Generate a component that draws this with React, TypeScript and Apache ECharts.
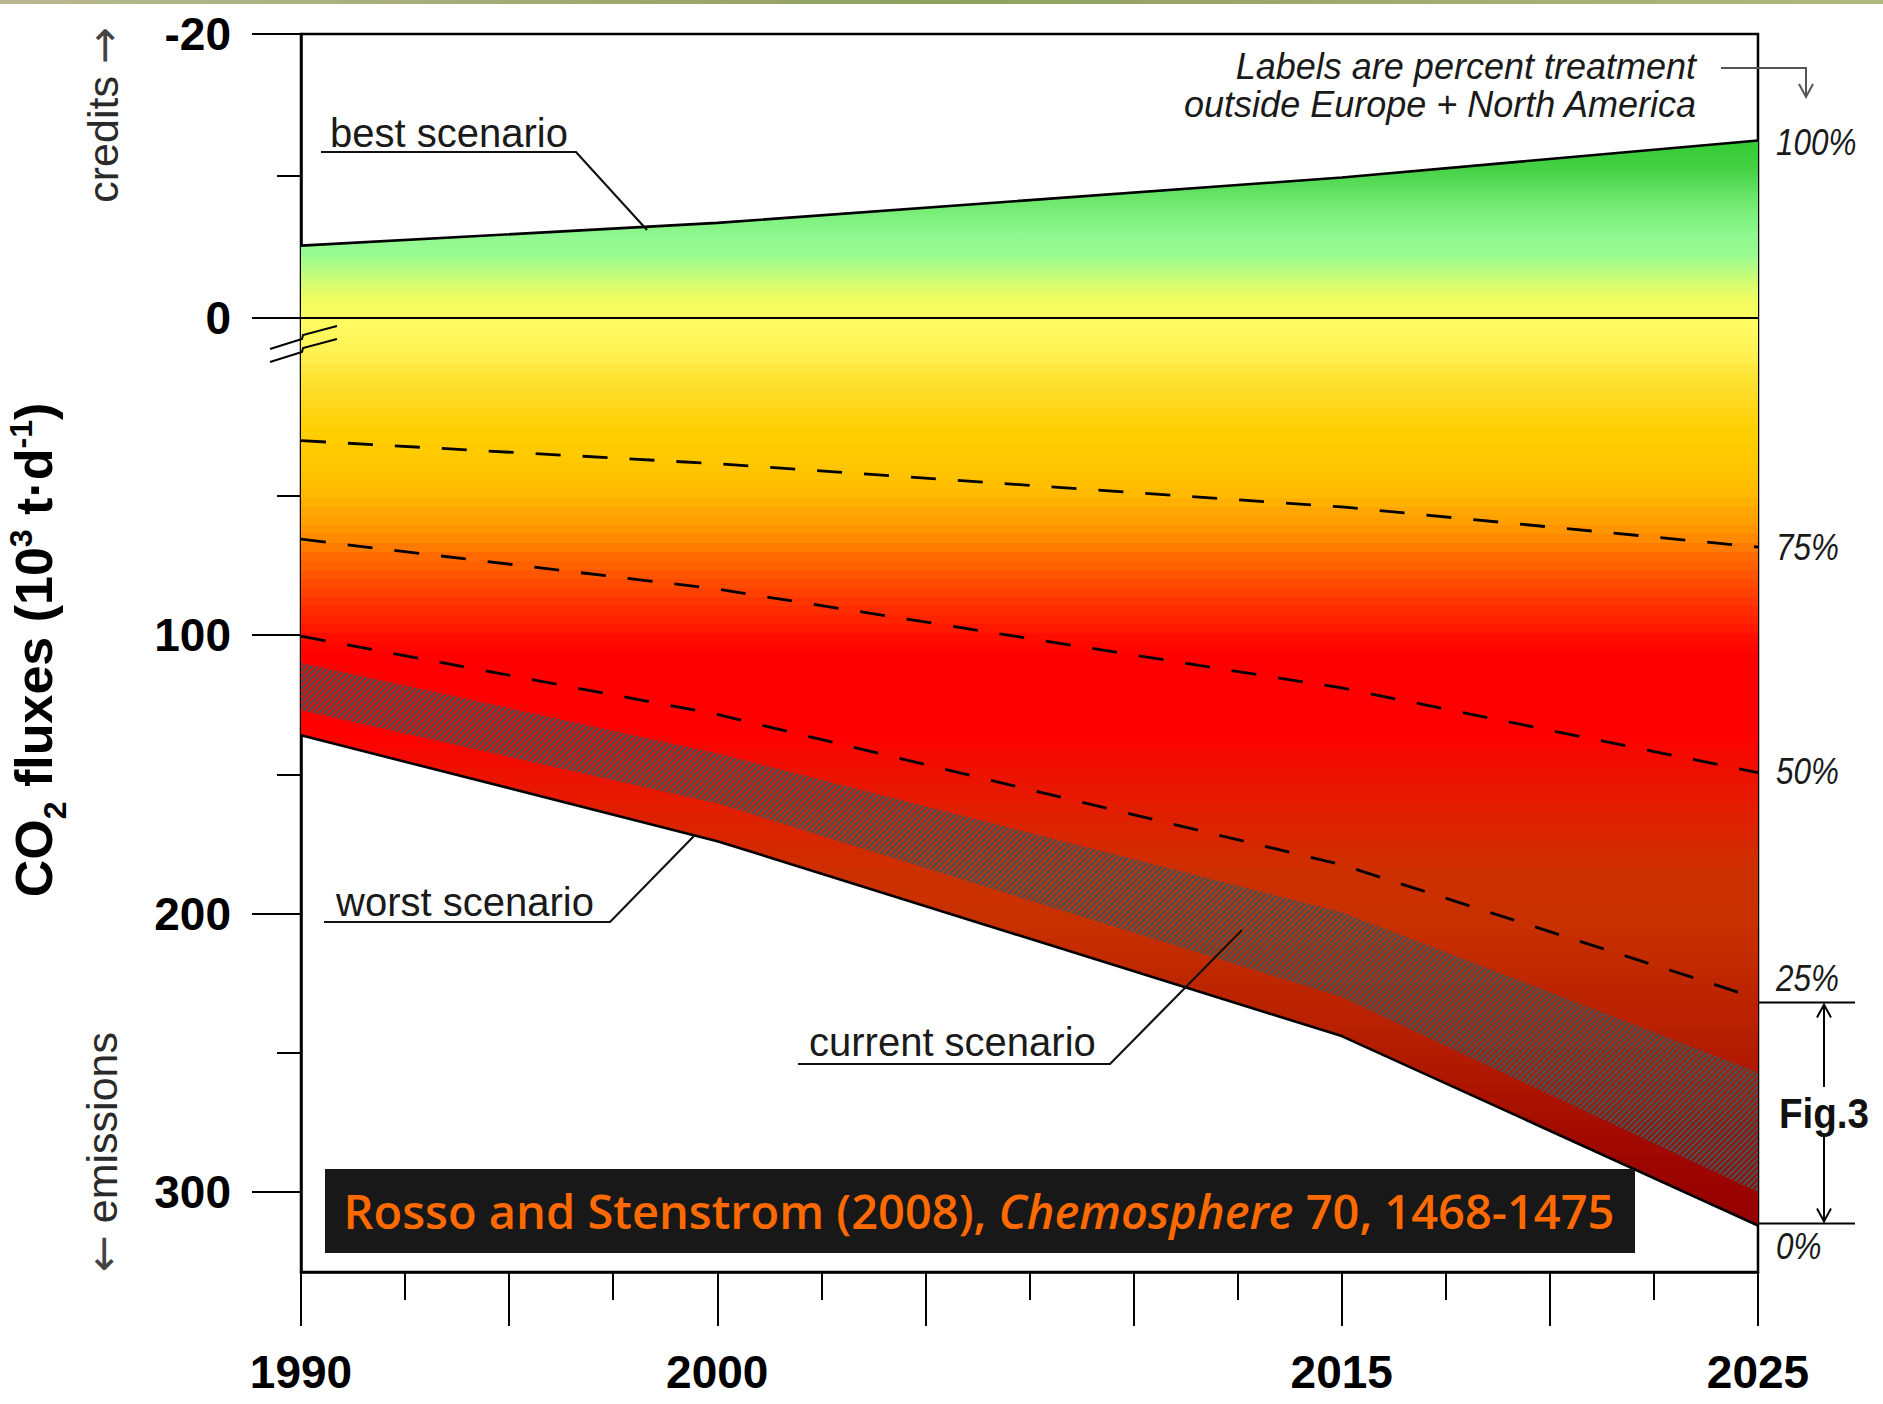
import React, { useEffect, useRef } from "react";
import * as echarts from "echarts";

// ---------- data ----------
const years = [1990, 2000, 2015, 2025];
const bestScenario = [-5.1, -6.7, -9.9, -12.5]; // 100 % treatment (credits are negative)
const worstScenario = [136, 174, 244, 312]; // 0 % treatment
const currentUpper = [110, 142.5, 199.5, 257]; // hatched "current scenario" band
const currentLower = [127, 160.5, 230, 300];
const treat75 = [30.2, 38.5, 54, 68.4];
const treat50 = [65.6, 83.5, 119, 149.4];
const treat25 = [100.4, 128.5, 182.5, 230.5];

const yTickLabels = [-20, 0, 100, 200, 300];
const yMinorTicks = [-10, 50, 150, 250];
const xTickLabels = [1990, 2000, 2015, 2025];
const xMajorTicks = [1990, 1995, 2000, 2005, 2010, 2015, 2020, 2025];
const xMinorTicks = [1992.5, 1997.5, 2002.5, 2007.5, 2012.5, 2017.5, 2022.5];
const pctLabels = ["100%", "75%", "50%", "25%", "0%"];

// broken axis: credits stretched, gap below the zero line
const Y_MIN = -20;
const Y_MAX = 328.7;
const CREDIT_STRETCH = 5.1;
const BREAK_GAP = 13.8;
const toAxis = (v: number) => (v <= 0 ? v * CREDIT_STRETCH : v + BREAK_GAP);
const fromAxis = (t: number) => (t <= 0 ? t / CREDIT_STRETCH : t - BREAK_GAP);

const W = 1883;
const H = 1404;
const FONT = "'Liberation Sans', Arial, Helvetica, sans-serif";

// colour ramp (by vertical pixel position)
const creditKeys: [number, string][] = [
  [140, "#33cc33"], [167, "#44d044"], [200, "#6de86d"], [235, "#90f890"],
  [255, "#98fc90"], [270, "#b8fc80"], [285, "#d8fc70"], [300, "#f0fc60"], [318, "#fcfc60"],
];
const emissionKeys: [number, string][] = [
  [318, "#fffc60"], [335, "#fff860"], [355, "#fff050"], [375, "#ffe436"], [400, "#ffd820"],
  [430, "#ffd000"], [460, "#ffc800"], [490, "#ffbc00"], [515, "#ffa400"], [535, "#ff9000"],
  [553, "#ff7000"], [570, "#ff5a00"], [590, "#ff4400"], [607, "#ff3000"], [622, "#ff2000"],
  [640, "#ff0a00"], [660, "#ff0000"], [735, "#ff0000"], [770, "#ee1000"], [823, "#dd2200"],
  [873, "#cc3000"], [923, "#c83000"], [973, "#c02800"], [1022, "#b82000"], [1072, "#b01800"],
  [1147, "#a00800"], [1232, "#940000"],
];

function hexRgb(h: string) {
  return [parseInt(h.slice(1, 3), 16), parseInt(h.slice(3, 5), 16), parseInt(h.slice(5, 7), 16)];
}
function colorAt(keys: [number, string][], y: number) {
  if (y <= keys[0][0]) return keys[0][1];
  for (let i = 1; i < keys.length; i++) {
    if (y <= keys[i][0]) {
      const [y0, c0] = keys[i - 1];
      const [y1, c1] = keys[i];
      const f = (y - y0) / (y1 - y0);
      const a = hexRgb(c0);
      const b = hexRgb(c1);
      const m = a.map((v, k) => Math.round(v + (b[k] - v) * f));
      return `rgb(${m[0]},${m[1]},${m[2]})`;
    }
  }
  return keys[keys.length - 1][1];
}
function buildStops() {
  const stops: { offset: number; color: string }[] = [];
  creditKeys.forEach(([y, c]) => stops.push({ offset: y / H, color: c }));
  const step = 9;
  for (let y = 318; y < 1232; y += step) {
    const c = colorAt(emissionKeys, y + step / 2);
    stops.push({ offset: y / H, color: c }, { offset: Math.min(y + step, 1232) / H, color: c });
  }
  return stops;
}

function makeHatch() {
  const s = 6;
  const c = document.createElement("canvas");
  c.width = s;
  c.height = s;
  const g = c.getContext("2d");
  if (g) {
    g.strokeStyle = "rgba(78,78,78,1)";
    g.lineWidth = 2.6;
    g.beginPath();
    g.moveTo(-1, s + 1);
    g.lineTo(s + 1, -1);
    g.moveTo(-s / 2 - 1, s / 2 + 1);
    g.lineTo(s / 2 + 1, -s / 2 - 1);
    g.moveTo(s / 2 - 1, s * 1.5 + 1);
    g.lineTo(s * 1.5 + 1, s / 2 - 1);
    g.stroke();
  }
  return c;
}

const pts = (vals: number[]) => years.map((y, i) => [y, toAxis(vals[i])]);
// one row: [x0, upper0, lower0, x1, upper1, lower1, ...]
const bandRow = (upper: number[], lower: number[]) =>
  years.flatMap((y, i) => [y, toAxis(upper[i]), toAxis(lower[i])]);

export default function App() {
  const ref = useRef<HTMLDivElement>(null);

  useEffect(() => {
    if (!ref.current) return;
    const chart = echarts.init(ref.current, undefined, { renderer: "svg" });

    const gradient = new echarts.graphic.LinearGradient(0, 0, 0, H, buildStops(), true);
    const hatchCanvas = makeHatch();
    const hatch: any = { image: hatchCanvas.toDataURL(), repeat: "repeat", imageWidth: 6, imageHeight: 6 };
    const black = "#000";
    const dashed = { color: black, width: 2.8, type: [25, 22] as any };

    const bandRender = (fill: any) => (params: any, api: any) => {
      const upper: number[][] = [];
      const lower: number[][] = [];
      for (let i = 0; i < years.length; i++) {
        const x = api.value(i * 3);
        upper.push(api.coord([x, api.value(i * 3 + 1)]));
        lower.push(api.coord([x, api.value(i * 3 + 2)]));
      }
      return {
        type: "polygon",
        shape: { points: upper.concat(lower.reverse()) },
        style: { fill, stroke: null },
      };
    };

    const option: any = {
      animation: false,
      backgroundColor: "#fff",
      grid: {
        left: 301, top: 34, right: W - 1758, bottom: H - 1272,
        show: true, borderColor: black, borderWidth: 2.5, backgroundColor: "transparent",
        containLabel: false, outerBoundsMode: "none",
      },
      xAxis: [
        {
          type: "value", min: 1990, max: 2025, position: "bottom",
          axisLine: { show: true, onZero: false, lineStyle: { color: black, width: 2.5 } },
          axisTick: { show: true, customValues: xMajorTicks, length: 54, lineStyle: { color: black, width: 2 } },
          axisLabel: {
            customValues: xTickLabels, fontSize: 46, fontWeight: "bold", fontFamily: FONT,
            color: black, margin: 77, formatter: (v: number) => String(v),
          },
          splitLine: { show: false },
        },
        {
          type: "value", min: 1990, max: 2025, position: "bottom",
          axisLine: { show: false, onZero: false },
          axisTick: { show: true, customValues: xMinorTicks, length: 28, lineStyle: { color: black, width: 2 } },
          axisLabel: { show: false },
          splitLine: { show: false },
        },
      ],
      yAxis: [
        {
          type: "value", inverse: true, min: toAxis(Y_MIN), max: toAxis(Y_MAX), position: "left",
          axisLine: { show: true, onZero: false, lineStyle: { color: black, width: 2.5 } },
          axisTick: { show: true, customValues: yTickLabels.map(toAxis), length: 49, lineStyle: { color: black, width: 2 } },
          axisLabel: {
            customValues: yTickLabels.map(toAxis), fontSize: 46, fontWeight: "bold", fontFamily: FONT,
            color: black, margin: 70, formatter: (v: number) => String(Math.round(fromAxis(v))),
          },
          splitLine: { show: false },
        },
        {
          type: "value", inverse: true, min: toAxis(Y_MIN), max: toAxis(Y_MAX), position: "left",
          axisLine: { show: false, onZero: false },
          axisTick: { show: true, customValues: yMinorTicks.map(toAxis), length: 24, lineStyle: { color: black, width: 2 } },
          axisLabel: { show: false },
          splitLine: { show: false },
        },
      ],
      series: [
        {
          name: "range", type: "custom", silent: true, z: 2,
          renderItem: bandRender(gradient),
          data: [bandRow(bestScenario, worstScenario)],
        },
        {
          name: "current scenario", type: "custom", silent: true, z: 3,
          renderItem: bandRender(hatch),
          data: [bandRow(currentUpper, currentLower)],
        },
        {
          name: "best scenario", type: "line", data: pts(bestScenario), symbol: "none", silent: true,
          lineStyle: { color: black, width: 2.6 }, z: 6,
          markLine: {
            silent: true, symbol: "none", label: { show: false },
            lineStyle: { color: black, type: "solid", width: 2.2 },
            data: [{ yAxis: toAxis(0) }],
          },
        },
        {
          name: "worst scenario", type: "line", data: pts(worstScenario), symbol: "none", silent: true,
          lineStyle: { color: black, width: 2.6 }, z: 6,
        },
        { name: "75%", type: "line", data: pts(treat75), symbol: "none", silent: true, lineStyle: dashed, z: 4 },
        { name: "50%", type: "line", data: pts(treat50), symbol: "none", silent: true, lineStyle: dashed, z: 4 },
        { name: "25%", type: "line", data: pts(treat25), symbol: "none", silent: true, lineStyle: dashed, z: 4 },
      ],
    };
    chart.setOption(option);

    // ---------- annotations ----------
    const last = years.length - 1;
    const px = (v: number) => chart.convertToPixel({ xAxisIndex: 0, yAxisIndex: 0 }, [years[last], toAxis(v)]) as number[];
    const ends = [bestScenario[last], treat75[last], treat50[last], treat25[last], worstScenario[last]];
    const labelDy = [2, 0, -2, -20, 21];
    const endPx = ends.map((v) => px(v));
    const rightX = endPx[0][0];

    const txt = (x: number, y: number, text: string, extra: any = {}, elExtra: any = {}) => ({
      type: "text", x, y, silent: true, z: 50, ...elExtra,
      style: {
        text, fill: "#1a1a1a", fontFamily: FONT, fontSize: 40, align: "left", verticalAlign: "middle", ...extra,
      },
    });
    const pl = (points: number[][], stroke = "#111", lineWidth = 2.2) => ({
      type: "polyline", silent: true, z: 50, shape: { points }, style: { stroke, lineWidth, fill: null },
    });

    const graphics: any[] = [];
    graphics.push({
      type: "rect", silent: true, z: 50, shape: { x: 0, y: 0, width: W, height: 4 },
      style: {
        fill: new echarts.graphic.LinearGradient(0, 0, 1, 0, [
          { offset: 0, color: "#b8b890" }, { offset: 0.5, color: "#8fa060" }, { offset: 1, color: "#b0b880" },
        ]),
      },
    });

    // y-axis title, laid out piece by piece (sub- and superscripts)
    const ctx = document.createElement("canvas").getContext("2d");
    const measure = (t: string, size: number) => {
      if (!ctx) return t.length * size * 0.55;
      ctx.font = `bold ${size}px 'Liberation Sans', Arial, sans-serif`;
      return ctx.measureText(t).width;
    };
    const titleParts: [string, number, number][] = [
      ["CO", 52, 0], ["2", 32, 21], [" fluxes (10", 52, 0], ["3", 32, -13], [" t·d", 52, 0], ["-1", 32, -13], [")", 52, 0],
    ];
    const totalW = titleParts.reduce((s, p) => s + measure(p[0], p[1]), 0);
    let cursor = -totalW / 2;
    const titleChildren = titleParts.map(([t, size, dy]) => {
      const el = {
        type: "text", x: cursor, y: dy, silent: true,
        style: { text: t, fontSize: size, fontWeight: "bold", fontFamily: FONT, fill: "#000", align: "left", verticalAlign: "middle" },
      };
      cursor += measure(t, size);
      return el;
    });
    graphics.push({ type: "group", x: 34, y: 650, rotation: Math.PI / 2, silent: true, z: 50, children: titleChildren });

    const sideRich = {
      w: { fontSize: 43, fontFamily: FONT, fill: "#2a2a2a" },
      a: { fontSize: 44, fontFamily: "'DejaVu Sans', sans-serif", fill: "#444" },
    };
    graphics.push({
      type: "text", x: 103, y: 115, rotation: Math.PI / 2, silent: true, z: 50,
      style: { text: "{w|credits }{a|→}", align: "center", verticalAlign: "middle", rich: sideRich },
    });
    graphics.push({
      type: "text", x: 102, y: 1152, rotation: Math.PI / 2, silent: true, z: 50,
      style: { text: "{a|←}{w| emissions}", align: "center", verticalAlign: "middle", rich: sideRich },
    });

    // axis break marks
    graphics.push(pl([[270, 349], [302, 339], [303, 335], [337, 326]], "#000", 2));
    graphics.push(pl([[270, 362], [302, 352], [303, 348], [337, 339]], "#000", 2));

    // scenario callouts
    graphics.push(txt(330, 133, "best scenario"));
    graphics.push(pl([[321, 152], [576, 152], [647, 230]]));
    graphics.push(txt(336, 902, "worst scenario"));
    graphics.push(pl([[324, 922], [610, 922], [694, 836]]));
    graphics.push(txt(809, 1042, "current scenario"));
    graphics.push(pl([[798, 1064], [1110, 1064], [1242, 930]]));

    // top-right note
    const note = { fontSize: 36, fontStyle: "italic", align: "right", fill: "#1a1a1a" };
    graphics.push(txt(1696, 66, "Labels are percent treatment", note));
    graphics.push(txt(1696, 104, "outside Europe + North America", note));
    graphics.push(pl([[1721, 68], [1806, 68], [1806, 96]], "#555", 2));
    graphics.push(pl([[1799, 84], [1806, 97], [1813, 84]], "#555", 2));

    // percent labels at the right edge
    pctLabels.forEach((lab, i) => {
      graphics.push(txt(rightX + 18, endPx[i][1] + labelDy[i], lab,
        { fontSize: 37, fontStyle: "italic", fill: "#1a1a1a" }, { scaleX: 0.85 }));
    });

    // Fig.3 bracket
    const y25 = endPx[3][1] + 4;
    const y0 = endPx[4][1] - 2;
    const ax = rightX + 66;
    const mid = (y25 + y0) / 2;
    graphics.push(pl([[rightX, y25], [rightX + 97, y25]], "#000", 2));
    graphics.push(pl([[rightX, y0], [rightX + 97, y0]], "#000", 2));
    graphics.push(pl([[ax, y25 + 2], [ax, mid - 26]], "#000", 2));
    graphics.push(pl([[ax, mid + 24], [ax, y0 - 2]], "#000", 2));
    graphics.push(pl([[ax - 7, y25 + 15], [ax, y25 + 2], [ax + 7, y25 + 15]], "#000", 2));
    graphics.push(pl([[ax - 7, y0 - 15], [ax, y0 - 2], [ax + 7, y0 - 15]], "#000", 2));
    graphics.push(txt(ax, mid, "Fig.3", { fontSize: 42, fontWeight: "bold", align: "center", fill: "#111" }, { scaleX: 0.92 }));

    // citation box
    graphics.push({
      type: "rect", silent: true, shape: { x: 325, y: 1169, width: 1310, height: 84 },
      style: { fill: "#181818" }, z: 100,
    });
    graphics.push({
      type: "text", x: 979, y: 1211, silent: true, z: 101,
      style: {
        text: "{a|Rosso and Stenstrom (2008), }{b|Chemosphere}{a| 70, 1468-1475}",
        align: "center", verticalAlign: "middle",
        rich: {
          a: { fontSize: 47, fontWeight: 600, fontFamily: "'Open Sans', 'Noto Sans', sans-serif", fill: "#ff6a00" },
          b: { fontSize: 47, fontWeight: 600, fontStyle: "italic", fontFamily: "'Open Sans', 'Noto Sans', sans-serif", fill: "#ff6a00" },
        },
      },
    });

    chart.setOption({ graphic: graphics });

    return () => chart.dispose();
  }, []);

  return (
    <div
      ref={ref}
      style={{ position: "absolute", left: 0, top: 0, width: W, height: H, background: "#fff" }}
    />
  );
}
